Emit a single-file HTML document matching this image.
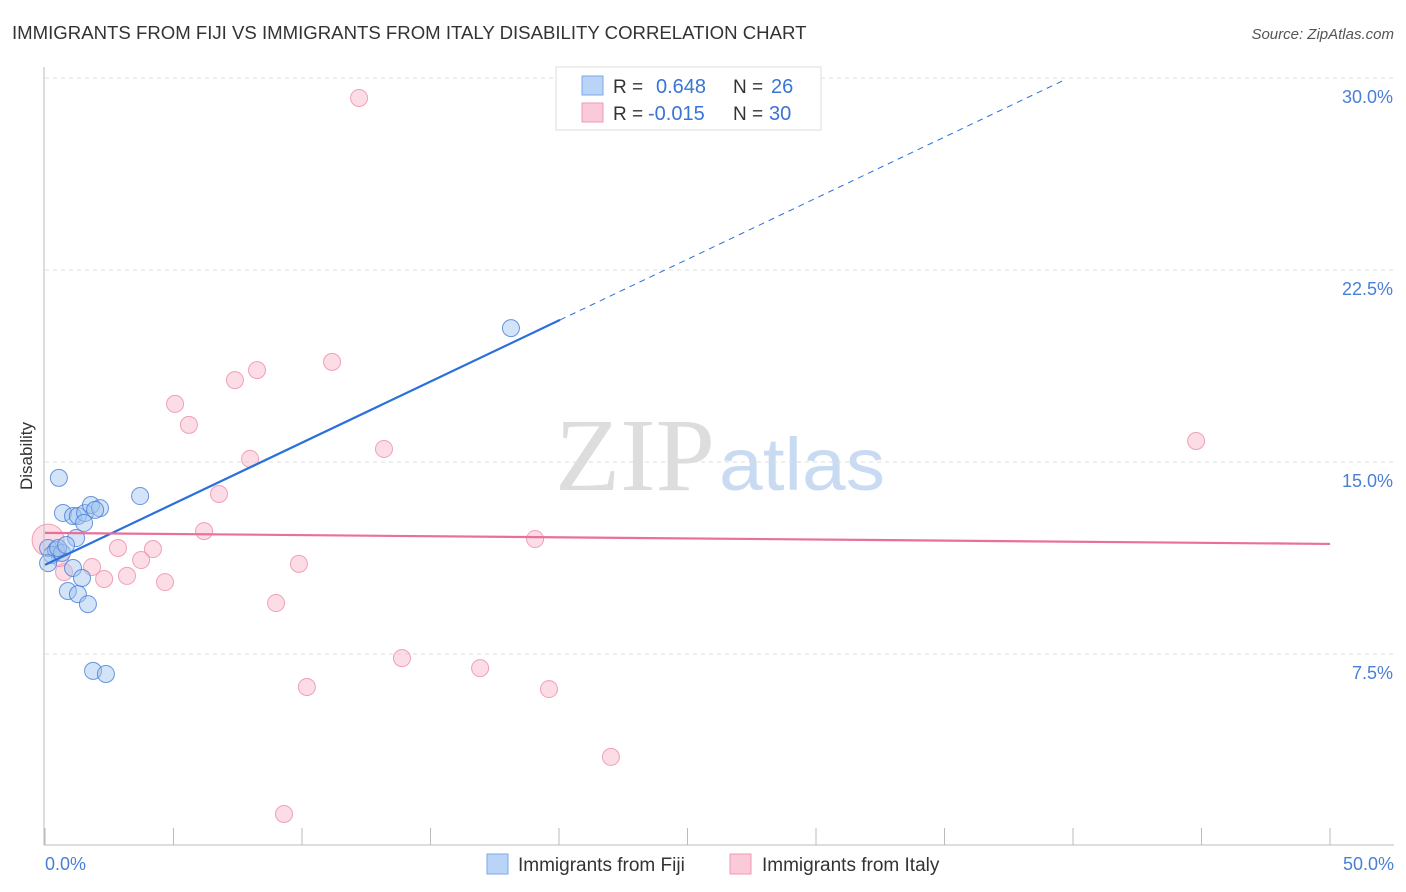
<!DOCTYPE html>
<html><head><meta charset="utf-8"><style>
body{margin:0;background:#fff;font-family:"Liberation Sans",sans-serif;}
svg{display:block}
</style></head><body>
<svg id="c" width="1406" height="892" xmlns="http://www.w3.org/2000/svg">
<text x="12" y="39" font-size="18.6" fill="#333">IMMIGRANTS FROM FIJI VS IMMIGRANTS FROM ITALY DISABILITY CORRELATION CHART</text>
<text x="1394" y="39" font-size="15" fill="#555" font-style="italic" text-anchor="end">Source: ZipAtlas.com</text>
<text x="32" y="456" font-size="17" fill="#333" text-anchor="middle" transform="rotate(-90 32 456)">Disability</text>
<text x="555" y="490" font-size="104" fill="#ddd" textLength="160" lengthAdjust="spacingAndGlyphs" font-family="Liberation Serif,serif">ZIP</text>
<text x="719" y="490" font-size="74" fill="#c9dbf3" textLength="166" lengthAdjust="spacingAndGlyphs">atlas</text>
<g id="grid"></g><g id="pts"></g><g id="lines"></g>
<line x1="44" y1="67" x2="44" y2="845" stroke="#bbb"/>
<line x1="44" y1="845" x2="1394" y2="845" stroke="#bbb"/>
<text x="45" y="870" font-size="18" fill="#4a7fd6">0.0%</text>
<text x="1394" y="870" font-size="18" fill="#4a7fd6" text-anchor="end">50.0%</text>
<g>
<rect x="556" y="67" width="265" height="63" fill="#fff" stroke="#ddd"/>
<rect x="582" y="76" width="21" height="19" fill="#b9d4f7" stroke="#7aa7e8"/>
<rect x="582" y="103" width="21" height="19" fill="#fbcad8" stroke="#ef9ab4"/>
<text x="613" y="93" font-size="19" fill="#333">R = </text><text x="656" y="93" font-size="20" fill="#3a74d4">0.648</text>
<text x="733" y="93" font-size="19" fill="#333">N = </text><text x="771" y="93" font-size="20" fill="#3a74d4">26</text>
<text x="613" y="120" font-size="19" fill="#333">R = </text><text x="648" y="120" font-size="20" fill="#3a74d4">-0.015</text>
<text x="733" y="120" font-size="19" fill="#333">N = </text><text x="769" y="120" font-size="20" fill="#3a74d4">30</text>
</g>
<g><rect x="487" y="854" width="21" height="20" fill="#b9d4f7" stroke="#7aa7e8"/><text x="518" y="871" font-size="19" fill="#333">Immigrants from Fiji</text></g>
<g><rect x="730" y="854" width="21" height="20" fill="#fbcad8" stroke="#ef9ab4"/><text x="762" y="871" font-size="19" fill="#333">Immigrants from Italy</text></g>
</svg>
<script>
const yTicks=[7.5,15,22.5,30];
const yTickLabels=["7.5%","15.0%","22.5%","30.0%"];
const xTicks=[0,5,10,15,20,25,30,35,40,45,50];
const fijiX=[0.54,3.70,0.70,1.09,1.28,1.56,1.79,2.14,1.95,1.52,1.21,0.12,0.43,0.27,0.66,0.12,1.09,1.44,0.89,1.28,1.67,1.87,2.37,18.13,0.51,0.82];
const fijiY=[14.38,13.67,13.01,12.89,12.89,13.01,13.32,13.20,13.13,12.62,12.03,11.64,11.56,11.37,11.45,11.05,10.86,10.47,9.96,9.84,9.45,6.84,6.72,20.23,11.64,11.76];
const italyX=[0.12,0.74,1.83,2.84,4.20,2.30,3.19,4.67,3.74,5.06,5.60,7.39,8.25,11.17,12.22,7.98,6.77,6.19,9.88,8.99,13.19,19.07,44.79,13.89,16.93,10.19,19.61,22.02,9.30,0.58];
const italyY=[11.95,10.70,10.90,11.64,11.60,10.43,10.55,10.31,11.17,17.27,16.45,18.20,18.59,18.91,29.22,15.12,13.75,12.30,11.02,9.49,15.51,11.99,15.82,7.34,6.95,6.21,6.13,3.48,1.25,11.25];
const fijiTrend=[10.98,20.55];
const fijiTrendEnd=[20.04,39.6];
const italyTrend=[12.23,11.80];
const NS="http://www.w3.org/2000/svg";
const xs=v=>45+v*25.7, ys=v=>846-v*25.6;
function mk(t,a,p){const e=document.createElementNS(NS,t);for(const k in a)e.setAttribute(k,a[k]);p.appendChild(e);return e;}
const grid=document.getElementById('grid');
yTicks.forEach((t,i)=>{
 const l=mk('line',{x1:45,x2:1394,y1:ys(t),y2:ys(t),stroke:'#ddd','stroke-dasharray':'4,4'},grid);
 
 
 const tx=mk('text',{x:1393,y:ys(t)+25,'font-size':18,fill:'#4a7fd6','text-anchor':'end'},grid);
 tx.textContent=yTickLabels[i];
 
 
});
xTicks.forEach(t=>{
 const l=mk('line',{x1:xs(t),x2:xs(t),y1:828,y2:845,stroke:'#bbb'},grid);
 
 
});
const pts=document.getElementById('pts');
italyX.forEach((x,i)=>{
 const c=mk('circle',{cx:xs(x),cy:ys(italyY[i]),r:i==0?16:8.5,fill:'rgba(248,180,200,0.45)',stroke:'rgba(236,140,170,0.8)','stroke-width':1},pts);
 
 
});
fijiX.forEach((x,i)=>{
 const c=mk('circle',{cx:xs(x),cy:ys(fijiY[i]),r:8.5,fill:'rgba(160,195,240,0.45)',stroke:'rgba(70,125,215,0.8)','stroke-width':1},pts);
 
 
});
const lines=document.getElementById('lines');
const slope=(fijiTrend[1]-fijiTrend[0])/fijiTrendEnd[0];
let l=mk('line',{x1:xs(0),y1:ys(fijiTrend[0]),x2:xs(fijiTrendEnd[0]),y2:ys(fijiTrend[1]),stroke:'#2a6fdb','stroke-width':2.2},lines);


l=mk('line',{x1:xs(fijiTrendEnd[0]),y1:ys(fijiTrend[1]),x2:xs(fijiTrendEnd[1]),y2:ys(fijiTrend[0]+slope*fijiTrendEnd[1]),stroke:'#2a6fdb','stroke-width':1,'stroke-dasharray':'6,5'},lines);


l=mk('line',{x1:xs(0),y1:ys(italyTrend[0]),x2:xs(50),y2:ys(italyTrend[1]),stroke:'#e8709a','stroke-width':2.2},lines);


</script>
</body></html>
